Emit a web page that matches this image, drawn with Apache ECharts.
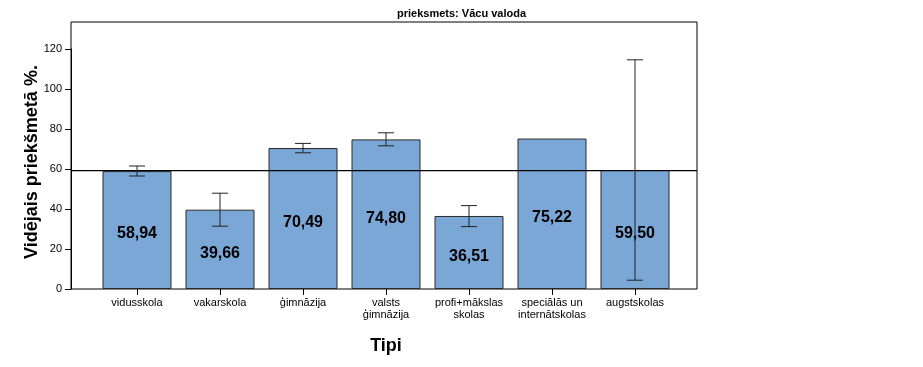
<!DOCTYPE html>
<html><head><meta charset="utf-8">
<script src="https://cdn.jsdelivr.net/npm/echarts@6/dist/echarts.min.js"></script>
<style>html,body{margin:0;padding:0;background:#fff}#c{width:923px;height:367px}</style>
</head><body><div id="c"></div>
<script>
const categories = ['vidusskola','vakarskola','ģimnāzija','valsts\nģimnāzija','profi+mākslas\nskolas','speciālās un\ninternātskolas','augstskolas'];
const means = [58.94, 39.66, 70.49, 74.80, 36.51, 75.22, 59.50];
const errLow = [56.5, 31.4, 68.1, 71.6, 31.2, null, 4.4];
const errHigh = [61.5, 47.9, 72.8, 78.1, 41.7, null, 114.6];
const overallMean = [59.15];
const yTicks = [0, 20, 40, 60, 80, 100, 120];

const FONT = 'Liberation Sans, Arial, sans-serif';
const chart = echarts.init(document.getElementById('c'), null, {renderer: 'canvas'});
const errData = categories.map((c, i) => [i, errLow[i], errHigh[i]]).filter(d => d[1] != null);

chart.setOption({
  animation: false,
  title: {
    text: 'prieksmets: Vācu valoda', left: 'center', top: 8, padding: 0,
    textStyle: {fontFamily: FONT, fontSize: 11, fontWeight: 'bold', color: '#000'}
  },
  grid: [
    {left: 71, right: 226, top: 22, bottom: 78, show: true, borderColor: '#000', borderWidth: 1, backgroundColor: 'transparent'},
    {left: 71, right: 226, top: 49, bottom: 78},
    {left: 95.5, width: 581, top: 22, bottom: 78}
  ],
  xAxis: [
    {gridIndex: 0, type: 'value', min: 0, max: 1, show: false},
    {gridIndex: 1, type: 'value', min: 0, max: 1, show: false},
    {gridIndex: 2, type: 'category', data: categories,
      axisLine: {show: false},
      axisTick: {show: true, alignWithLabel: true, length: 6, lineStyle: {color: '#000'}},
      axisLabel: {fontFamily: FONT, fontSize: 11, color: '#000', margin: 8, lineHeight: 12, interval: 0},
      name: 'Tipi', nameLocation: 'middle', nameGap: 48,
      nameTextStyle: {fontFamily: FONT, fontSize: 18, fontWeight: 'bold', color: '#000'}
    }
  ],
  yAxis: [
    {gridIndex: 0, type: 'value', min: 0, max: 133.5, show: false},
    {gridIndex: 1, type: 'value', min: 0, max: 120, interval: 20,
      axisLine: {show: true, lineStyle: {color: '#000'}},
      axisTick: {show: true, length: 6, lineStyle: {color: '#000'}},
      axisLabel: {fontFamily: FONT, fontSize: 11, color: '#000', margin: 9,
        customValues: yTicks},
      splitLine: {show: false},
      name: 'Vidējais priekšmetā %.', nameLocation: 'middle', nameGap: 30, nameMoveOverlap: false,
      nameTextStyle: {fontFamily: FONT, fontSize: 18, fontWeight: 'bold', color: '#000', padding: [0, 0, 0, 14]}
    },
    {gridIndex: 2, type: 'value', min: 0, max: 133.5, show: false}
  ],
  series: [
    {type: 'line', xAxisIndex: 0, yAxisIndex: 0, data: [[0, overallMean[0]], [1, overallMean[0]]],
      symbol: 'none', lineStyle: {color: '#000', width: 1.2}, z: 5, silent: true},
    {type: 'bar', xAxisIndex: 2, yAxisIndex: 2, data: means, barWidth: 69,
      itemStyle: {color: '#7BA7D7', borderColor: '#2b2b2b', borderWidth: 1},
      label: {show: true, position: 'inside', offset: [0, 4],
        formatter: p => p.value.toFixed(2).replace('.', ','),
        fontFamily: FONT, fontSize: 16, fontWeight: 'bold', color: '#000'},
      z: 2},
    {type: 'custom', xAxisIndex: 2, yAxisIndex: 2, data: errData, z: 10,
      renderItem: function (params, api) {
        const x = api.value(0);
        const lo = api.coord([x, api.value(1)]);
        const hi = api.coord([x, api.value(2)]);
        const hw = 8;
        const st = {stroke: '#222', lineWidth: 1};
        return {type: 'group', children: [
          {type: 'line', shape: {x1: lo[0], y1: lo[1], x2: hi[0], y2: hi[1]}, style: st},
          {type: 'line', shape: {x1: lo[0]-hw, y1: lo[1], x2: lo[0]+hw, y2: lo[1]}, style: st},
          {type: 'line', shape: {x1: hi[0]-hw, y1: hi[1], x2: hi[0]+hw, y2: hi[1]}, style: st}
        ]};
      }
    }
  ]
});
</script></body></html>
